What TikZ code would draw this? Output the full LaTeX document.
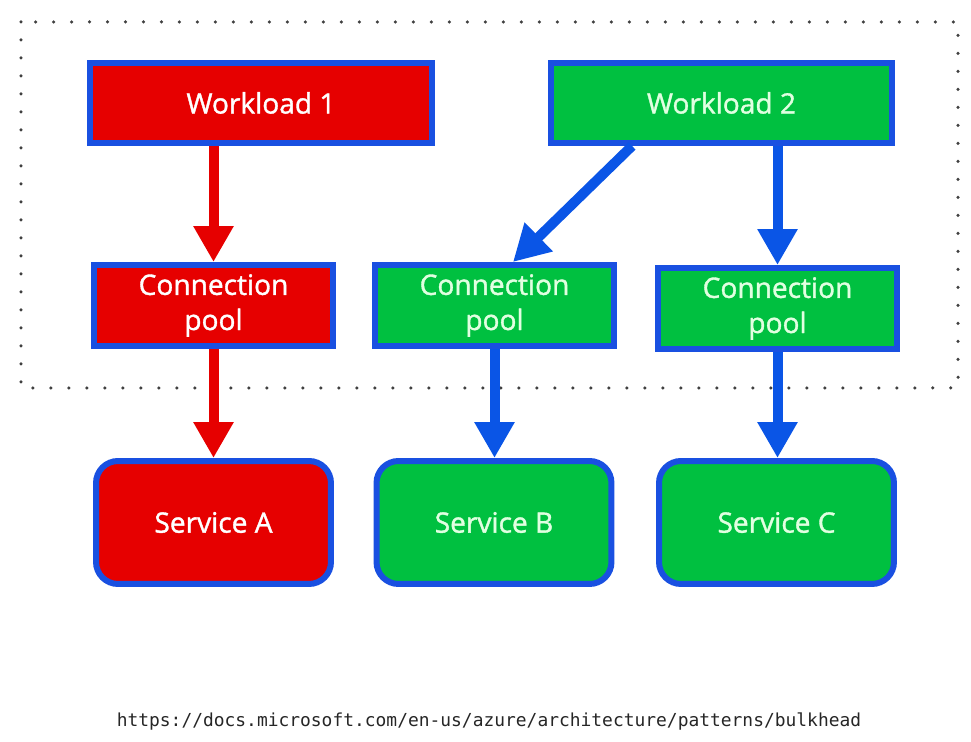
\documentclass[tikz,border=0pt]{standalone}
\usepackage{fontspec}
\setmainfont{Open Sans}
\newfontfamily\lblfont{Open Sans}[FakeBold=1.3]
\setmonofont{DejaVu Sans Mono}
\usepackage{tikz}
\usetikzlibrary{positioning}
\usetikzlibrary{arrows.meta}
\definecolor{boxred}{RGB}{230,0,0}
\definecolor{boxgreen}{RGB}{0,192,64}
\definecolor{edgeblue}{RGB}{25,80,225}
\definecolor{arrowblue}{RGB}{10,85,230}
\definecolor{palegreen}{RGB}{225,255,225}
\tikzset{%
  wl/.style = {rectangle,draw=edgeblue,line width=0.12cm,
        minimum width=6.84cm,minimum height=1.6cm,
        font=\lblfont\fontsize{16}{20}\selectfont},
  pool/.style = {rectangle,draw=edgeblue,line width=0.12cm,
        minimum width=4.78cm,minimum height=1.62cm,align=center,
        font=\lblfont\fontsize{16}{20}\selectfont},
  svc/.style = {rectangle,rounded corners=0.44cm,draw=edgeblue,
        line width=0.12cm,minimum width=4.7cm,minimum height=2.46cm,
        font=\lblfont\fontsize{16}{20}\selectfont},
  redbox/.style = {fill=boxred,text=white},
  greenbox/.style = {fill=boxgreen,text=palegreen},
  redarrow/.style = {-{Triangle[width=0.76cm,length=0.72cm]},
        line width=0.2cm,draw=boxred},
  bluearrow/.style = {-{Triangle[width=0.76cm,length=0.72cm]},
        line width=0.2cm,draw=arrowblue},
  frame/.style = {draw=black!75,line width=0.07cm,line cap=round,
        dash pattern=on 0pt off 0.36cm}
}
\begin{document}
\begin{tikzpicture}[x=0.02cm,y=-0.02cm]
  \useasboundingbox (0,0) rectangle (971,742);
  \draw[frame] (21,22) rectangle (958,388);

  \node[wl,redbox] (w1) at (261,103) {Workload 1};
  \node[wl,greenbox] (w2) at (721.5,103) {Workload 2};
  \node[pool,redbox] (cp1) at (213.5,305.5) {Connection\\pool};
  \node[pool,greenbox] (cp2) at (494.5,305.5) {Connection\\pool};
  \node[pool,greenbox] (cp3) at (777.5,308.5) {Connection\\pool};
  \node[svc,redbox] (sa) at (213.5,522.5) {Service A};
  \node[svc,greenbox] (sb) at (494,522.5) {Service B};
  \node[svc,greenbox] (sc) at (776.5,522.5) {Service C};
  \node[font=\ttfamily\fontsize{10.2}{13}\selectfont,text=black!85] (url)
        at (489,722) {https://docs.microsoft.com/en-us/azure/architecture/patterns/bulkhead};

  \draw[redarrow] (cp1.north |- w1.south) -- (cp1.north);
  \draw[redarrow] (cp1.south) -- (sa.north);

  \draw[bluearrow] ([xshift=-1.79cm]w2.south) -- ([xshift=0.37cm]cp2.north);
  \draw[bluearrow] (cp3.north |- w2.south) -- (cp3.north);
  \draw[bluearrow] (cp2.south) -- (cp2.south |- sb.north);
  \draw[bluearrow] (cp3.south) -- (cp3.south |- sc.north);
\end{tikzpicture}
\end{document}
